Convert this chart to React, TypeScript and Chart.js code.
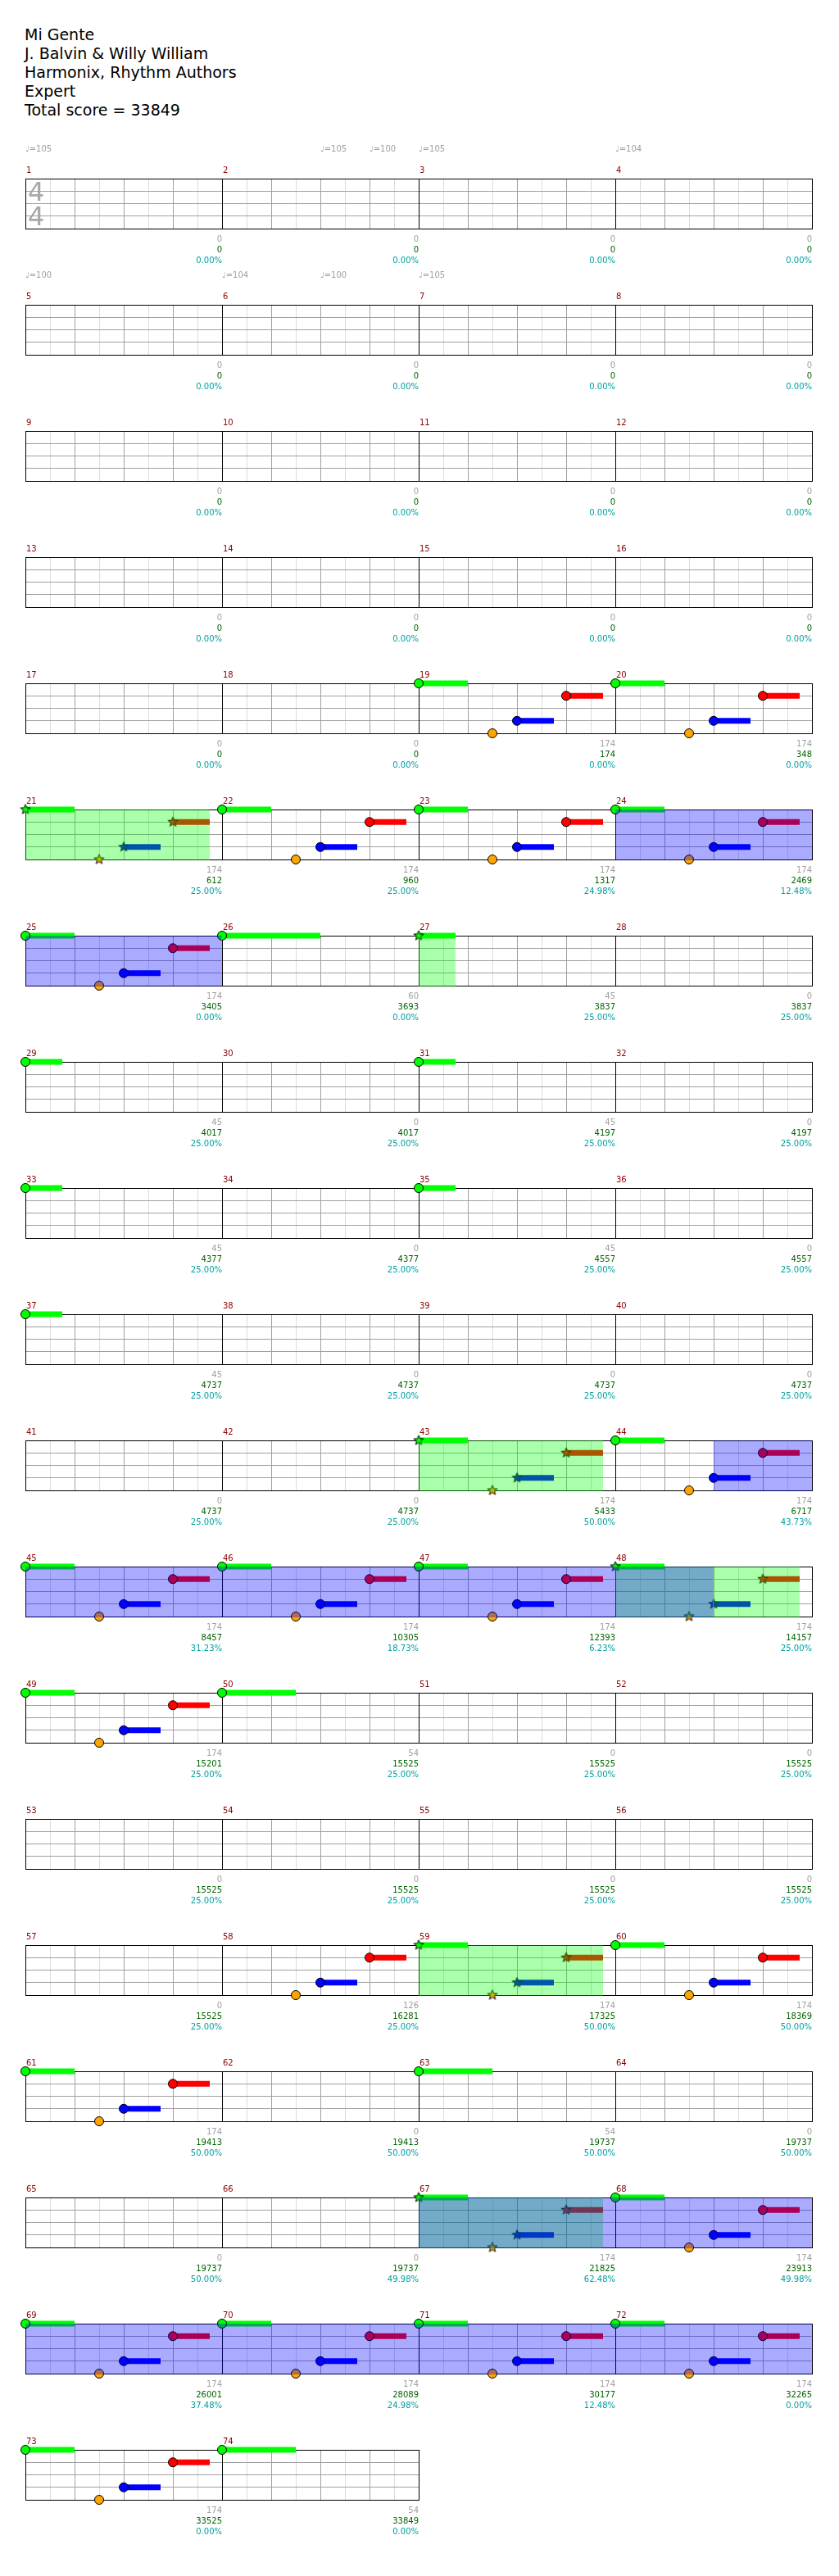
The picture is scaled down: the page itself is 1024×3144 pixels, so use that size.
import React, { useEffect, useRef } from 'react';
import { Chart, registerables } from 'chart.js';

Chart.register(...registerables);

// ---------------- data ----------------
const TITLE_LINES = ['Mi Gente', 'J. Balvin & Willy William', 'Harmonix, Rhythm Authors', 'Expert', 'Total score = 33849'];
const MEASURE_COUNT = 74;
const MEASURES_PER_ROW = 4;
const BEATS_PER_MEASURE = 4;
const TIME_SIGNATURE = ['4', '4'];

// tempo marks: [measure, beat, bpm]
const TEMPOS = [
  [1, 0, 105], [2, 2, 105], [2, 3, 100], [3, 0, 105], [4, 0, 104],
  [5, 0, 100], [6, 0, 104], [6, 2, 100], [7, 0, 105],
];

// lanes: 0 green, 1 red, 2 yellow, 3 blue, 4 orange
const LANE_COLORS = ['#00ff00', '#ff0000', '#ffff00', '#0000ff', '#ffa500'];

// notes: [measure, beat, lane, sustain beats, star note]
const NOTES = [
  [19, 0, 0, 1, 0], [19, 1.5, 4, 0, 0], [19, 2, 3, 0.75, 0], [19, 3, 1, 0.75, 0],
  [20, 0, 0, 1, 0], [20, 1.5, 4, 0, 0], [20, 2, 3, 0.75, 0], [20, 3, 1, 0.75, 0],
  [21, 0, 0, 1, 1], [21, 1.5, 4, 0, 1], [21, 2, 3, 0.75, 1], [21, 3, 1, 0.75, 1],
  [22, 0, 0, 1, 0], [22, 1.5, 4, 0, 0], [22, 2, 3, 0.75, 0], [22, 3, 1, 0.75, 0],
  [23, 0, 0, 1, 0], [23, 1.5, 4, 0, 0], [23, 2, 3, 0.75, 0], [23, 3, 1, 0.75, 0],
  [24, 0, 0, 1, 0], [24, 1.5, 4, 0, 0], [24, 2, 3, 0.75, 0], [24, 3, 1, 0.75, 0],
  [25, 0, 0, 1, 0], [25, 1.5, 4, 0, 0], [25, 2, 3, 0.75, 0], [25, 3, 1, 0.75, 0],
  [26, 0, 0, 2, 0],
  [27, 0, 0, 0.75, 1],
  [29, 0, 0, 0.75, 0],
  [31, 0, 0, 0.75, 0],
  [33, 0, 0, 0.75, 0],
  [35, 0, 0, 0.75, 0],
  [37, 0, 0, 0.75, 0],
  [43, 0, 0, 1, 1], [43, 1.5, 4, 0, 1], [43, 2, 3, 0.75, 1], [43, 3, 1, 0.75, 1],
  [44, 0, 0, 1, 0], [44, 1.5, 4, 0, 0], [44, 2, 3, 0.75, 0], [44, 3, 1, 0.75, 0],
  [45, 0, 0, 1, 0], [45, 1.5, 4, 0, 0], [45, 2, 3, 0.75, 0], [45, 3, 1, 0.75, 0],
  [46, 0, 0, 1, 0], [46, 1.5, 4, 0, 0], [46, 2, 3, 0.75, 0], [46, 3, 1, 0.75, 0],
  [47, 0, 0, 1, 0], [47, 1.5, 4, 0, 0], [47, 2, 3, 0.75, 0], [47, 3, 1, 0.75, 0],
  [48, 0, 0, 1, 1], [48, 1.5, 4, 0, 1], [48, 2, 3, 0.75, 1], [48, 3, 1, 0.75, 1],
  [49, 0, 0, 1, 0], [49, 1.5, 4, 0, 0], [49, 2, 3, 0.75, 0], [49, 3, 1, 0.75, 0],
  [50, 0, 0, 1.5, 0],
  [58, 1.5, 4, 0, 0], [58, 2, 3, 0.75, 0], [58, 3, 1, 0.75, 0],
  [59, 0, 0, 1, 1], [59, 1.5, 4, 0, 1], [59, 2, 3, 0.75, 1], [59, 3, 1, 0.75, 1],
  [60, 0, 0, 1, 0], [60, 1.5, 4, 0, 0], [60, 2, 3, 0.75, 0], [60, 3, 1, 0.75, 0],
  [61, 0, 0, 1, 0], [61, 1.5, 4, 0, 0], [61, 2, 3, 0.75, 0], [61, 3, 1, 0.75, 0],
  [63, 0, 0, 1.5, 0],
  [67, 0, 0, 1, 1], [67, 1.5, 4, 0, 1], [67, 2, 3, 0.75, 1], [67, 3, 1, 0.75, 1],
  [68, 0, 0, 1, 0], [68, 1.5, 4, 0, 0], [68, 2, 3, 0.75, 0], [68, 3, 1, 0.75, 0],
  [69, 0, 0, 1, 0], [69, 1.5, 4, 0, 0], [69, 2, 3, 0.75, 0], [69, 3, 1, 0.75, 0],
  [70, 0, 0, 1, 0], [70, 1.5, 4, 0, 0], [70, 2, 3, 0.75, 0], [70, 3, 1, 0.75, 0],
  [71, 0, 0, 1, 0], [71, 1.5, 4, 0, 0], [71, 2, 3, 0.75, 0], [71, 3, 1, 0.75, 0],
  [72, 0, 0, 1, 0], [72, 1.5, 4, 0, 0], [72, 2, 3, 0.75, 0], [72, 3, 1, 0.75, 0],
  [73, 0, 0, 1, 0], [73, 1.5, 4, 0, 0], [73, 2, 3, 0.75, 0], [73, 3, 1, 0.75, 0],
  [74, 0, 0, 1.5, 0],
];

// star power phrases: [startMeasure, startBeat, endMeasure, endBeat]
const STAR_PHRASES = [
  [21, 0, 21, 3.75], [27, 0, 27, 0.75], [43, 0, 43, 3.75],
  [48, 0, 48, 3.75], [59, 0, 59, 3.75], [67, 0, 67, 3.75],
];
// overdrive activations: [startMeasure, startBeat, endMeasure, endBeat]
const OVERDRIVE = [[24, 0, 26, 0], [44, 2, 48, 2], [67, 0, 73, 0]];

const MEASURE_SCORES = [
  0, 0, 0, 0, 0, 0, 0, 0, 0, 0, 0, 0, 0, 0, 0, 0, 0, 0,
  174, 174, 174, 174, 174, 174, 174, 60, 45, 0,
  45, 0, 45, 0, 45, 0, 45, 0, 45, 0, 0, 0,
  0, 0, 174, 174, 174, 174, 174, 174, 174, 54, 0, 0,
  0, 0, 0, 0, 0, 126, 174, 174, 174, 0, 54, 0,
  0, 0, 174, 174, 174, 174, 174, 174, 174, 54,
];
const CUMULATIVE_SCORES = [
  0, 0, 0, 0, 0, 0, 0, 0, 0, 0, 0, 0, 0, 0, 0, 0, 0, 0,
  174, 348, 612, 960, 1317, 2469, 3405, 3693, 3837, 3837,
  4017, 4017, 4197, 4197, 4377, 4377, 4557, 4557, 4737, 4737, 4737, 4737,
  4737, 4737, 5433, 6717, 8457, 10305, 12393, 14157, 15201, 15525, 15525, 15525,
  15525, 15525, 15525, 15525, 15525, 16281, 17325, 18369, 19413, 19413, 19737, 19737,
  19737, 19737, 21825, 23913, 26001, 28089, 30177, 32265, 33525, 33849,
];
const STAR_METER = [
  '0.00%', '0.00%', '0.00%', '0.00%', '0.00%', '0.00%', '0.00%', '0.00%', '0.00%', '0.00%',
  '0.00%', '0.00%', '0.00%', '0.00%', '0.00%', '0.00%', '0.00%', '0.00%', '0.00%', '0.00%',
  '25.00%', '25.00%', '24.98%', '12.48%', '0.00%', '0.00%', '25.00%', '25.00%',
  '25.00%', '25.00%', '25.00%', '25.00%', '25.00%', '25.00%', '25.00%', '25.00%',
  '25.00%', '25.00%', '25.00%', '25.00%', '25.00%', '25.00%', '50.00%', '43.73%',
  '31.23%', '18.73%', '6.23%', '25.00%', '25.00%', '25.00%', '25.00%', '25.00%',
  '25.00%', '25.00%', '25.00%', '25.00%', '25.00%', '25.00%', '50.00%', '50.00%',
  '50.00%', '50.00%', '50.00%', '50.00%', '50.00%', '49.98%', '62.48%', '49.98%',
  '37.48%', '24.98%', '12.48%', '0.00%', '0.00%', '0.00%',
];

// ---------------- layout ----------------
const PAGE_W = 1024;
const PAGE_H = 3144;
const ROW_H = 154;
const FIRST_ROW_TOP = 168;
const PAD_LEFT = 31;
const MEASURE_PX = 240;
const STAFF_TOP = 50;
const STAFF_H = 61;
const FONT = "'DejaVu Sans', 'Noto Sans', sans-serif";

const SP_FILL = 'rgba(0,255,0,0.333)';
const OD_FILL = 'rgba(0,0,255,0.333)';

const starCache: Record<string, HTMLCanvasElement> = {};
function starImage(fill: string): HTMLCanvasElement {
  if (starCache[fill]) return starCache[fill];
  const c = document.createElement('canvas');
  c.width = 15;
  c.height = 15;
  const ctx = c.getContext('2d')!;
  const cx = 7.5, cy = 7.5, R = 6.3, r = 2.7;
  ctx.beginPath();
  for (let i = 0; i < 10; i++) {
    const a = -Math.PI / 2 + (i * Math.PI) / 5;
    const rad = i % 2 === 0 ? R : r;
    const px = cx + rad * Math.cos(a);
    const py = cy + rad * Math.sin(a);
    if (i === 0) ctx.moveTo(px, py);
    else ctx.lineTo(px, py);
  }
  ctx.closePath();
  ctx.fillStyle = fill;
  ctx.fill();
  ctx.strokeStyle = '#000';
  ctx.lineWidth = 1;
  ctx.stroke();
  starCache[fill] = c;
  return c;
}

const absBeat = (m: number, b: number) => (m - 1) * BEATS_PER_MEASURE + b;

function buildConfig(row: number): any {
  const firstMeasure = row * MEASURES_PER_ROW + 1;
  const nMeasures = Math.min(MEASURES_PER_ROW, MEASURE_COUNT - row * MEASURES_PER_ROW);
  const rowStart = row * MEASURES_PER_ROW * BEATS_PER_MEASURE;
  const rowBeats = nMeasures * BEATS_PER_MEASURE;
  const padRight = PAGE_W - PAD_LEFT - nMeasures * MEASURE_PX;

  const rowNotes = NOTES.filter((n) => n[0] >= firstMeasure && n[0] < firstMeasure + nMeasures);

  const datasets: any[] = [];
  // notes (drawn on top)
  for (let lane = 0; lane < LANE_COLORS.length; lane++) {
    for (const star of [0, 1]) {
      const pts = rowNotes
        .filter((n) => n[2] === lane && n[4] === star)
        .map((n) => ({ x: absBeat(n[0], n[1]) - rowStart, y: lane }));
      if (!pts.length) continue;
      datasets.push({
        data: pts,
        order: 0,
        clip: false,
        showLine: false,
        pointStyle: star ? starImage(LANE_COLORS[lane]) : 'circle',
        pointRadius: star ? 6 : 5.5,
        pointHoverRadius: star ? 6 : 5.5,
        backgroundColor: LANE_COLORS[lane],
        borderColor: '#000',
        borderWidth: 1,
        pointBorderWidth: 1,
      });
    }
  }
  // sustains
  rowNotes
    .filter((n) => n[3] > 0)
    .forEach((n) => {
      const s = absBeat(n[0], n[1]) - rowStart;
      datasets.push({
        data: [{ x: s, y: n[2] }, { x: s + n[3], y: n[2] }],
        order: 1,
        clip: false,
        showLine: true,
        borderColor: LANE_COLORS[n[2]],
        borderWidth: 7,
        borderCapStyle: 'butt',
        pointRadius: 0,
        pointHoverRadius: 0,
      });
    });

  const gridPlugin = {
    id: 'staffGrid',
    beforeDatasetsDraw(chart: any) {
      const { ctx } = chart;
      const xs = chart.scales.x, ys = chart.scales.y;
      const px = (v: number) => Math.floor(xs.getPixelForValue(v) + 0.01) + 0.5;
      const py = (v: number) => Math.floor(ys.getPixelForValue(v) + 0.01) + 0.5;
      const top = py(0), bottom = py(4), left = px(0), right = px(rowBeats);
      ctx.save();
      ctx.lineWidth = 1;
      const vline = (x: number, c: string) => {
        ctx.strokeStyle = c;
        ctx.beginPath();
        ctx.moveTo(x, top);
        ctx.lineTo(x, bottom);
        ctx.stroke();
      };
      const hline = (y: number, c: string) => {
        ctx.strokeStyle = c;
        ctx.beginPath();
        ctx.moveTo(left - 0.5, y);
        ctx.lineTo(right + 0.5, y);
        ctx.stroke();
      };
      for (let b = 0.5; b < rowBeats; b += 1) vline(px(b), '#dcdcdc');
      for (let l = 1; l < 4; l++) hline(py(l), '#a0a0a0');
      for (let b = 1; b < rowBeats; b++) if (b % BEATS_PER_MEASURE !== 0) vline(px(b), '#a0a0a0');
      for (let b = 0; b <= rowBeats; b += BEATS_PER_MEASURE) vline(px(b), '#000');
      hline(top, '#000');
      hline(bottom, '#000');
      ctx.restore();
    },
    afterDatasetsDraw(chart: any) {
      const { ctx } = chart;
      const xs = chart.scales.x, ys = chart.scales.y;
      const top = Math.floor(ys.getPixelForValue(0) + 0.01);
      const bottom = Math.floor(ys.getPixelForValue(4) + 0.01);
      const drawSpans = (spans: number[][], fill: string, endMark: boolean) => {
        spans.forEach((sp) => {
          const s = Math.max(absBeat(sp[0], sp[1]), rowStart) - rowStart;
          const eAbs = absBeat(sp[2], sp[3]);
          const e = Math.min(eAbs, rowStart + rowBeats) - rowStart;
          if (e <= s) return;
          const x0 = Math.floor(xs.getPixelForValue(s) + 0.01);
          const x1 = Math.floor(xs.getPixelForValue(e) + 0.01);
          ctx.fillStyle = fill;
          ctx.fillRect(x0, top, x1 - x0, bottom - top + 1);
          if (endMark && eAbs <= rowStart + rowBeats) {
            ctx.fillStyle = 'rgba(255,140,140,0.5)';
            ctx.fillRect(x1 - 1, top + 1, 1, bottom - top - 1);
          }
        });
      };
      ctx.save();
      drawSpans(STAR_PHRASES, SP_FILL, false);
      drawSpans(OVERDRIVE, OD_FILL, true);
      ctx.restore();
    },
    afterDraw(chart: any) {
      const { ctx } = chart;
      const xs = chart.scales.x, ys = chart.scales.y;
      const top = Math.floor(ys.getPixelForValue(0) + 0.01);
      const bottom = Math.floor(ys.getPixelForValue(4) + 0.01);
      ctx.save();
      ctx.textBaseline = 'alphabetic';
      // time signature
      if (row === 0) {
        ctx.font = `32px ${FONT}`;
        ctx.fillStyle = '#a8a8a8';
        ctx.textAlign = 'left';
        ctx.fillText(TIME_SIGNATURE[0], xs.getPixelForValue(0) + 3, top + 27);
        ctx.fillText(TIME_SIGNATURE[1], xs.getPixelForValue(0) + 3, top + 57);
      }
      // tempo marks
      ctx.font = `10px ${FONT}`;
      ctx.textAlign = 'left';
      ctx.fillStyle = '#a0a0a0';
      TEMPOS.forEach((t) => {
        const a = absBeat(t[0], t[1]);
        if (a < rowStart || a >= rowStart + rowBeats) return;
        ctx.fillText('\u2669=' + t[2], Math.round(xs.getPixelForValue(a - rowStart)), top - 33);
      });
      // measure numbers and scores
      for (let i = 0; i < nMeasures; i++) {
        const m = firstMeasure + i;
        const xStart = Math.round(xs.getPixelForValue(i * BEATS_PER_MEASURE));
        const xEnd = Math.round(xs.getPixelForValue((i + 1) * BEATS_PER_MEASURE));
        ctx.textAlign = 'left';
        ctx.fillStyle = '#8b0000';
        ctx.fillText(String(m), xStart + 1, top - 7);
        ctx.textAlign = 'right';
        ctx.fillStyle = '#a0a0a0';
        ctx.fillText(String(MEASURE_SCORES[m - 1]), xEnd, bottom + 16);
        ctx.fillStyle = '#006400';
        ctx.fillText(String(CUMULATIVE_SCORES[m - 1]), xEnd, bottom + 29);
        ctx.fillStyle = '#00a0a0';
        ctx.fillText(STAR_METER[m - 1], xEnd, bottom + 42);
      }
      ctx.restore();
    },
  };

  return {
    type: 'scatter',
    data: { datasets },
    options: {
      animation: false,
      responsive: false,
      maintainAspectRatio: false,
      devicePixelRatio: 1,
      events: [],
      layout: { padding: { left: PAD_LEFT, right: padRight, top: STAFF_TOP, bottom: ROW_H - STAFF_TOP - STAFF_H } },
      scales: {
        x: { type: 'linear', min: 0, max: rowBeats, display: false },
        y: { type: 'linear', min: 0, max: 4, reverse: true, display: false },
      },
      plugins: { legend: { display: false }, tooltip: { enabled: false }, title: { display: false } },
    },
    plugins: [gridPlugin],
  };
}

function Row({ row }: { row: number }) {
  const ref = useRef<HTMLCanvasElement>(null);
  useEffect(() => {
    const chart = new Chart(ref.current as HTMLCanvasElement, buildConfig(row));
    return () => chart.destroy();
  }, [row]);
  return (
    <canvas
      ref={ref}
      width={PAGE_W}
      height={ROW_H}
      style={{ position: 'absolute', left: 0, top: FIRST_ROW_TOP + row * ROW_H, width: PAGE_W, height: ROW_H }}
    />
  );
}

export default function App() {
  const rows = Math.ceil(MEASURE_COUNT / MEASURES_PER_ROW);
  return (
    <div style={{ position: 'absolute', left: 0, top: 0, width: PAGE_W, height: PAGE_H, background: '#fff', overflow: 'hidden' }}>
      <div
        style={{
          position: 'absolute',
          left: 30,
          top: 31,
          fontFamily: FONT,
          fontSize: 19,
          lineHeight: '23px',
          color: '#000',
          whiteSpace: 'pre',
        }}
      >
        {TITLE_LINES.map((t, i) => (
          <div key={i}>{t}</div>
        ))}
      </div>
      {Array.from({ length: rows }, (_, r) => (
        <Row key={r} row={r} />
      ))}
    </div>
  );
}
